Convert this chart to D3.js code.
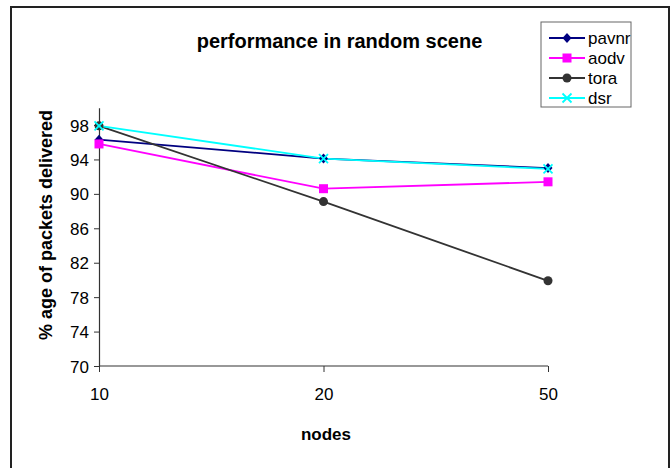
<!DOCTYPE html>
<html>
<head>
<meta charset="utf-8">
<script src="https://cdn.jsdelivr.net/npm/d3@7"></script>
<style>
  body { margin: 0; background: #fff; }
  svg { display: block; font-family: "Liberation Sans", Arial, sans-serif; }
</style>
</head>
<body>
<script>
// chart data
var nodes = ['10', '20', '50'];
var seriesNames = ['pavnr', 'aodv', 'tora', 'dsr'];
var pavnr = [96.3, 94.1, 93.0];
var aodv = [95.8, 90.6, 91.4];
var tora = [97.9, 89.1, 79.9];
var dsr = [97.9, 94.1, 92.9];
var yTicks = [70, 74, 78, 82, 86, 90, 94, 98];

var W = 671, H = 468;
var svg = d3.select('body').append('svg').attr('width', W).attr('height', H);

// outer frame
svg.append('rect')
  .attr('x', 11).attr('y', 7)
  .attr('width', 658).attr('height', 470)
  .attr('fill', 'none').attr('stroke', '#222').attr('stroke-width', 2);

var x = d3.scalePoint().domain(nodes).range([99, 548]);
var y = d3.scaleLinear().domain([70, 100]).range([366, 107.8]);

// axes
var gx = svg.append('g').attr('transform', 'translate(0,366)')
  .call(d3.axisBottom(x).tickSize(6).tickPadding(16));
var gy = svg.append('g').attr('transform', 'translate(99,0)')
  .call(d3.axisLeft(y).tickValues(yTicks).tickSize(5).tickPadding(5).tickSizeOuter(0));
[gx, gy].forEach(function(g) {
  g.select('.domain').attr('stroke', '#333').attr('stroke-width', 1.2);
  g.selectAll('.tick line').attr('stroke', '#333');
  g.selectAll('.tick text').attr('font-size', 17).attr('fill', '#000')
    .attr('font-family', '"Liberation Sans", Arial, sans-serif');
});
gx.select('.domain').attr('d', 'M99,0H548');
gy.selectAll('.tick text').attr('dy', '0.36em');

// titles
svg.append('text').attr('x', 339.5).attr('y', 48)
  .attr('text-anchor', 'middle').attr('font-size', 20).attr('font-weight', 'bold')
  .text('performance in random scene');
svg.append('text').attr('x', 326).attr('y', 440)
  .attr('text-anchor', 'middle').attr('font-size', 17).attr('font-weight', 'bold')
  .text('nodes');
svg.append('text')
  .attr('transform', 'translate(52,225) rotate(-90)')
  .attr('text-anchor', 'middle').attr('font-size', 18).attr('font-weight', 'bold')
  .text('% age of packets delivered');

var series = [
  { name: 'pavnr', values: pavnr, color: '#000080', shape: 'diamond' },
  { name: 'aodv', values: aodv, color: '#ff00ff', shape: 'square' },
  { name: 'tora', values: tora, color: '#333333', shape: 'circle' },
  { name: 'dsr', values: dsr, color: '#00ffff', shape: 'x' }
];

function drawMarker(g, shape, color) {
  if (shape === 'diamond') {
    g.append('path').attr('d', 'M0,-5L4.5,0L0,5L-4.5,0Z').attr('fill', color);
  } else if (shape === 'square') {
    g.append('rect').attr('x', -4.5).attr('y', -4.5).attr('width', 9).attr('height', 9).attr('fill', color);
  } else if (shape === 'circle') {
    g.append('circle').attr('r', 4.5).attr('fill', color);
  } else {
    g.append('path').attr('d', 'M-4.5,-4.5L4.5,4.5M-4.5,4.5L4.5,-4.5')
      .attr('stroke', color).attr('stroke-width', 1.8).attr('fill', 'none');
  }
}

var line = d3.line()
  .x(function(d, i) { return x(nodes[i]); })
  .y(function(d) { return y(d); });

series.forEach(function(s) {
  svg.append('path').datum(s.values)
    .attr('d', line).attr('fill', 'none')
    .attr('stroke', s.color).attr('stroke-width', 1.8);
});
series.forEach(function(s) {
  s.values.forEach(function(v, i) {
    var g = svg.append('g').attr('transform', 'translate(' + x(nodes[i]) + ',' + y(v) + ')');
    drawMarker(g, s.shape, s.color);
  });
});

// legend
var leg = svg.append('g');
leg.append('rect').attr('x', 541).attr('y', 22).attr('width', 90).attr('height', 85)
  .attr('fill', '#fff').attr('stroke', '#666').attr('stroke-width', 1);
series.forEach(function(s, i) {
  var ly = 38 + i * 20;
  leg.append('line').attr('x1', 549).attr('x2', 585).attr('y1', ly).attr('y2', ly)
    .attr('stroke', s.color).attr('stroke-width', 1.8);
  var g = leg.append('g').attr('transform', 'translate(567,' + ly + ')');
  drawMarker(g, s.shape, s.color);
  leg.append('text').attr('x', 588).attr('y', ly).attr('dy', '0.35em')
    .attr('font-size', 17).text(s.name);
});
</script>
</body>
</html>
